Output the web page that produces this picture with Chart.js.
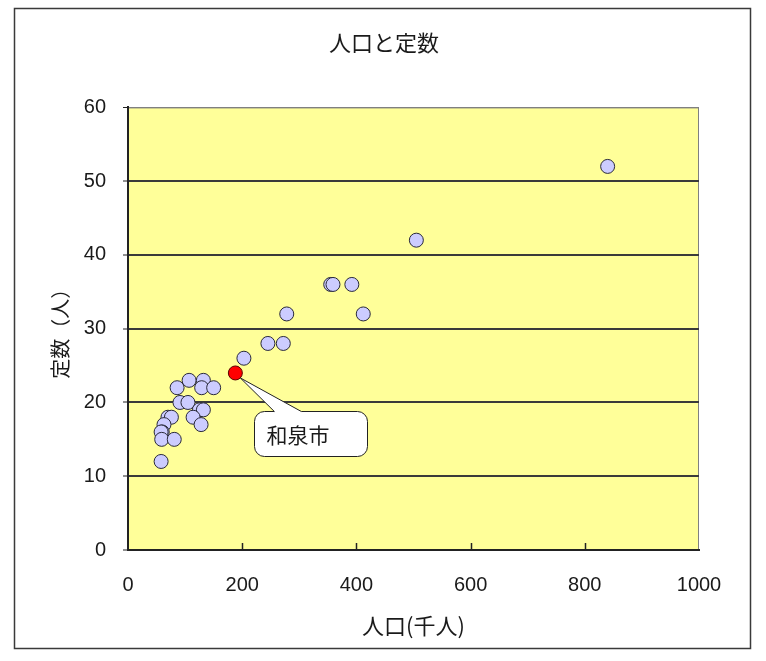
<!DOCTYPE html>
<html>
<head>
<meta charset="utf-8">
<script src="https://cdn.jsdelivr.net/npm/chart.js@4/dist/chart.umd.min.js"></script>
<style>
  html, body { margin: 0; padding: 0; background: #ffffff; }
  canvas { display: block; }
</style>
</head>
<body>
<canvas id="chart" width="766" height="661"></canvas>
<script>
// 人口（千人）と定数（人）— 各市
const cityPopulation = [840, 505, 355, 359, 392, 278, 412, 245, 272, 203,
  86, 107, 132, 129, 150, 91, 105, 125, 132, 114, 128,
  70, 76, 63, 60, 58, 59, 81, 58];
const cityStaff = [52, 42, 36, 36, 36, 32, 32, 28, 28, 26,
  22, 23, 23, 22, 22, 20, 20, 19, 19, 18, 17,
  18, 18, 17, 16, 16, 15, 15, 12];

// 和泉市
const izumiPopulation = [188];
const izumiStaff = [24];
const izumiLabel = '和泉市';

const chartTitle = '人口と定数';
const xAxisTitle = '人口(千人)';
const yAxisTitle = '定数（人）';
const xTicks = [0, 200, 400, 600, 800, 1000];
const yTicks = [0, 10, 20, 30, 40, 50, 60];

const toPoints = (xs, ys) => xs.map((x, i) => ({ x: x, y: ys[i] }));

const JP = '"Noto Sans CJK JP", "Noto Sans", sans-serif';
const NUM = '"Liberation Sans", Arial, sans-serif';

// 外枠・プロットエリア背景
const backdropPlugin = {
  id: 'backdrop',
  beforeDraw(chart) {
    const ctx = chart.ctx;
    const a = chart.chartArea;
    ctx.save();
    ctx.fillStyle = '#ffffff';
    ctx.fillRect(0, 0, chart.width, chart.height);
    ctx.strokeStyle = '#3a3a3a';
    ctx.lineWidth = 1.5;
    ctx.strokeRect(14.5, 8.5, 736, 640);
    ctx.fillStyle = '#FFFF99';
    ctx.fillRect(a.left, a.top, a.right - a.left, a.bottom - a.top);
    ctx.strokeStyle = '#808080';
    ctx.lineWidth = 1;
    ctx.strokeRect(a.left + 0.5, a.top + 0.5, a.right - a.left - 1, a.bottom - a.top - 1);
    ctx.restore();
  }
};

// X軸の内向き目盛り
const innerTicksPlugin = {
  id: 'innerTicks',
  beforeDatasetsDraw(chart) {
    const ctx = chart.ctx;
    const xs = chart.scales.x;
    const bottom = chart.chartArea.bottom;
    ctx.save();
    ctx.strokeStyle = '#222';
    ctx.lineWidth = 1.5;
    xs.ticks.forEach(t => {
      if (t.value <= xs.min || t.value >= xs.max) return;
      const px = Math.round(xs.getPixelForValue(t.value)) + 0.5;
      ctx.beginPath();
      ctx.moveTo(px, bottom);
      ctx.lineTo(px, bottom - 7);
      ctx.stroke();
    });
    ctx.restore();
  }
};

// 和泉市の吹き出し
const calloutPlugin = {
  id: 'callout',
  afterDatasetsDraw(chart) {
    const meta = chart.getDatasetMeta(1);
    const pt = meta.data[0];
    if (!pt) return;
    const ctx = chart.ctx;
    const px = pt.x, py = pt.y;
    const bx = Math.round(px + 19) + 0.5, by = Math.round(py + 38) + 0.5;
    const bw = 113, bh = 45, r = 10;
    const w0 = px + 39, w1 = px + 66;
    ctx.save();
    ctx.beginPath();
    ctx.moveTo(bx + r, by);
    ctx.lineTo(w0, by);
    ctx.lineTo(px + 5, py + 5);
    ctx.lineTo(w1, by);
    ctx.lineTo(bx + bw - r, by);
    ctx.arcTo(bx + bw, by, bx + bw, by + r, r);
    ctx.lineTo(bx + bw, by + bh - r);
    ctx.arcTo(bx + bw, by + bh, bx + bw - r, by + bh, r);
    ctx.lineTo(bx + r, by + bh);
    ctx.arcTo(bx, by + bh, bx, by + bh - r, r);
    ctx.lineTo(bx, by + r);
    ctx.arcTo(bx, by, bx + r, by, r);
    ctx.closePath();
    ctx.fillStyle = '#ffffff';
    ctx.fill();
    ctx.strokeStyle = '#222';
    ctx.lineWidth = 1;
    ctx.stroke();
    ctx.fillStyle = '#1a1a1a';
    ctx.font = '21px ' + JP;
    ctx.textAlign = 'left';
    ctx.textBaseline = 'middle';
    ctx.fillText(izumiLabel, bx + 12, by + bh / 2 + 1);
    ctx.restore();
  }
};

new Chart(document.getElementById('chart'), {
  type: 'scatter',
  data: {
    datasets: [
      {
        label: '各市',
        data: toPoints(cityPopulation, cityStaff),
        pointRadius: 7,
        pointHoverRadius: 7,
        backgroundColor: '#CCCCFF',
        borderColor: '#2a2a3a',
        borderWidth: 1
      },
      {
        label: izumiLabel,
        data: toPoints(izumiPopulation, izumiStaff),
        pointRadius: 7,
        pointHoverRadius: 7,
        backgroundColor: '#FF0000',
        borderColor: '#5a0000',
        borderWidth: 1
      }
    ]
  },
  options: {
    responsive: false,
    animation: false,
    devicePixelRatio: 1,
    layout: { padding: { top: 8, left: 14, right: 12, bottom: 13 } },
    plugins: {
      legend: { display: false },
      tooltip: { enabled: false },
      title: {
        display: true,
        text: chartTitle,
        color: '#1a1a1a',
        font: { family: JP, size: 22, weight: 'normal' },
        padding: { top: 21, bottom: 52 }
      }
    },
    scales: {
      x: {
        type: 'linear',
        min: 0,
        max: 1000,
        afterBuildTicks(scale) { scale.ticks = xTicks.map(v => ({ value: v })); },
        afterFit(scale) { scale.height = 98; },
        ticks: {
          color: '#1a1a1a',
          font: { family: NUM, size: 20 },
          padding: 23,
          maxRotation: 0,
          callback: v => String(v)
        },
        grid: { display: true, drawOnChartArea: false, drawTicks: false },
        border: { display: true, color: '#222', width: 2 },
        title: {
          display: true,
          text: xAxisTitle,
          color: '#1a1a1a',
          font: { family: JP, size: 22 },
          padding: { top: 0, bottom: 9 }
        }
      },
      y: {
        type: 'linear',
        min: 0,
        max: 60,
        afterBuildTicks(scale) { scale.ticks = yTicks.map(v => ({ value: v })); },
        afterFit(scale) { scale.width = 114; },
        ticks: {
          color: '#1a1a1a',
          font: { family: NUM, size: 20 },
          padding: 17,
          callback: v => String(v)
        },
        grid: {
          color: ctx => (ctx.tick && ctx.tick.value === 60 ? '#808080' : '#3a3a3a'),
          lineWidth: ctx => (ctx.tick && ctx.tick.value === 60 ? 1 : 2),
          tickColor: '#222',
          tickWidth: 1,
          tickLength: 5
        },
        border: { display: true, color: '#222', width: 2 },
        title: {
          display: true,
          text: yAxisTitle,
          color: '#1a1a1a',
          font: { family: JP, size: 20 },
          padding: { top: 34, bottom: 0 }
        }
      },
      // 右側の余白（プロットエリアを外枠内で左寄せに保つ）
      yRight: {
        type: 'linear',
        position: 'right',
        min: 0,
        max: 60,
        afterFit(scale) { scale.width = 55; },
        ticks: { display: false },
        grid: { display: false },
        border: { display: false }
      }
    }
  },
  plugins: [backdropPlugin, innerTicksPlugin, calloutPlugin]
});
</script>
</body>
</html>
